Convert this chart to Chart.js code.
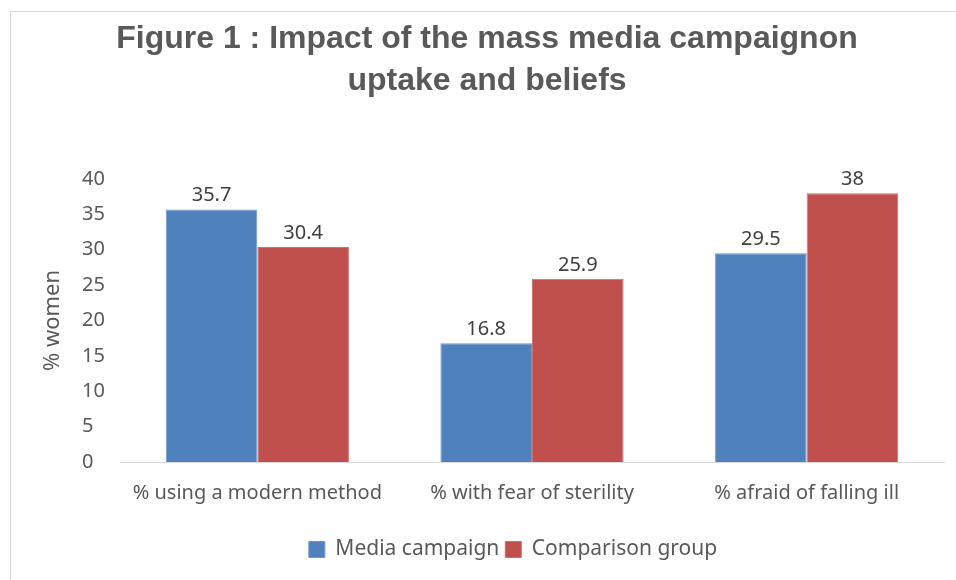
<!DOCTYPE html>
<html>
<head>
<meta charset="utf-8">
<script src="https://cdn.jsdelivr.net/npm/chart.js@4"></script>
<style>
    html, body { margin: 0; padding: 0; background: #fff; }
    #wrap { position: relative; width: 956px; height: 580px; }
    #frame {
        position: absolute; left: 10px; top: 11px; right: 0; bottom: 0;
        border-left: 1px solid #d9d9d9; border-top: 1px solid #d9d9d9;
    }
    canvas { position: absolute; left: 0; top: 0; }
</style>
</head>
<body>
<div id="wrap">
    <div id="frame"></div>
    <canvas id="myChart" width="956" height="580"></canvas>
</div>
<script>
// chart data
const categories = ['% using a modern method', '% with fear of sterility', '% afraid of falling ill'];
const mediaCampaign = [35.7, 16.8, 29.5];
const comparisonGroup = [30.4, 25.9, 38];
const seriesNames = ['Media campaign', 'Comparison group'];
const yTicks = [0, 5, 10, 15, 20, 25, 30, 35, 40];
const titleLines = ['Figure 1 : Impact of the mass media campaignon', 'uptake and beliefs'];
const yTitle = '% women';

const textFont = "'Noto Sans', 'Open Sans', sans-serif";

// values above each bar
const barLabels = {
    id: 'barLabels',
    afterDatasetsDraw(chart) {
        const c = chart.ctx;
        c.save();
        c.font = '20px ' + textFont;
        c.fillStyle = '#404040';
        c.textAlign = 'center';
        c.textBaseline = 'alphabetic';
        chart.data.datasets.forEach((ds, i) => {
            chart.getDatasetMeta(i).data.forEach((bar, j) => {
                c.fillText(String(ds.data[j]), bar.x, bar.y - 8);
            });
        });
        c.restore();
    }
};

// title and rotated y axis title, drawn by hand so they sit where the original has them
const extraText = {
    id: 'extraText',
    afterDraw(chart) {
        const c = chart.ctx;
        const area = chart.chartArea;
        c.save();
        c.fillStyle = '#595959';
        c.textAlign = 'center';
        c.textBaseline = 'middle';
        c.font = "bold 32px 'Liberation Sans', Arial, sans-serif";
        titleLines.forEach((line, i) => {
            c.fillText(line, 487, 39 + i * 42);
        });
        c.translate(53, (area.top + area.bottom) / 2);
        c.rotate(-Math.PI / 2);
        c.font = '22px ' + textFont;
        c.fillText(yTitle, 0, 0);
        c.restore();
    }
};

function initChart() {
    const ctx = document.getElementById('myChart');
    new Chart(ctx, {
        type: 'bar',
        data: {
            labels: categories,
            datasets: [{
                label: seriesNames[0],
                data: mediaCampaign,
                backgroundColor: '#4f81bd',
                borderColor: '#6f97c9',
                borderWidth: 1
            }, {
                label: seriesNames[1],
                data: comparisonGroup,
                backgroundColor: '#c0504d',
                borderColor: '#cc716e',
                borderWidth: 1
            }]
        },
        options: {
            responsive: false,
            animation: false,
            layout: {
                padding: { left: 82, right: 12, top: 179, bottom: 10 }
            },
            datasets: {
                bar: { categoryPercentage: 0.667, barPercentage: 1 }
            },
            scales: {
                x: {
                    grid: { display: false, drawTicks: false },
                    border: { display: true, color: '#d9d9d9', width: 1 },
                    ticks: {
                        padding: 19,
                        color: '#595959',
                        font: { family: textFont, size: 20 }
                    },
                    afterFit: (scale) => { scale.height = 71; }
                },
                y: {
                    min: 0,
                    max: 40,
                    afterBuildTicks: (scale) => {
                        scale.ticks = yTicks.map(v => ({ value: v }));
                    },
                    grid: { display: false, drawTicks: false },
                    border: { display: false },
                    ticks: {
                        crossAlign: 'far',
                        padding: 0,
                        color: '#595959',
                        font: { family: textFont, size: 20 }
                    },
                    afterFit: (scale) => { scale.width = 38; }
                }
            },
            plugins: {
                title: { display: false },
                legend: {
                    position: 'bottom',
                    labels: {
                        boxWidth: 16,
                        boxHeight: 16,
                        padding: 6,
                        color: '#595959',
                        font: { family: textFont, size: 21 }
                    }
                },
                tooltip: { enabled: false }
            }
        },
        plugins: [barLabels, extraText]
    });
}

document.addEventListener('DOMContentLoaded', initChart);
</script>
</body>
</html>
